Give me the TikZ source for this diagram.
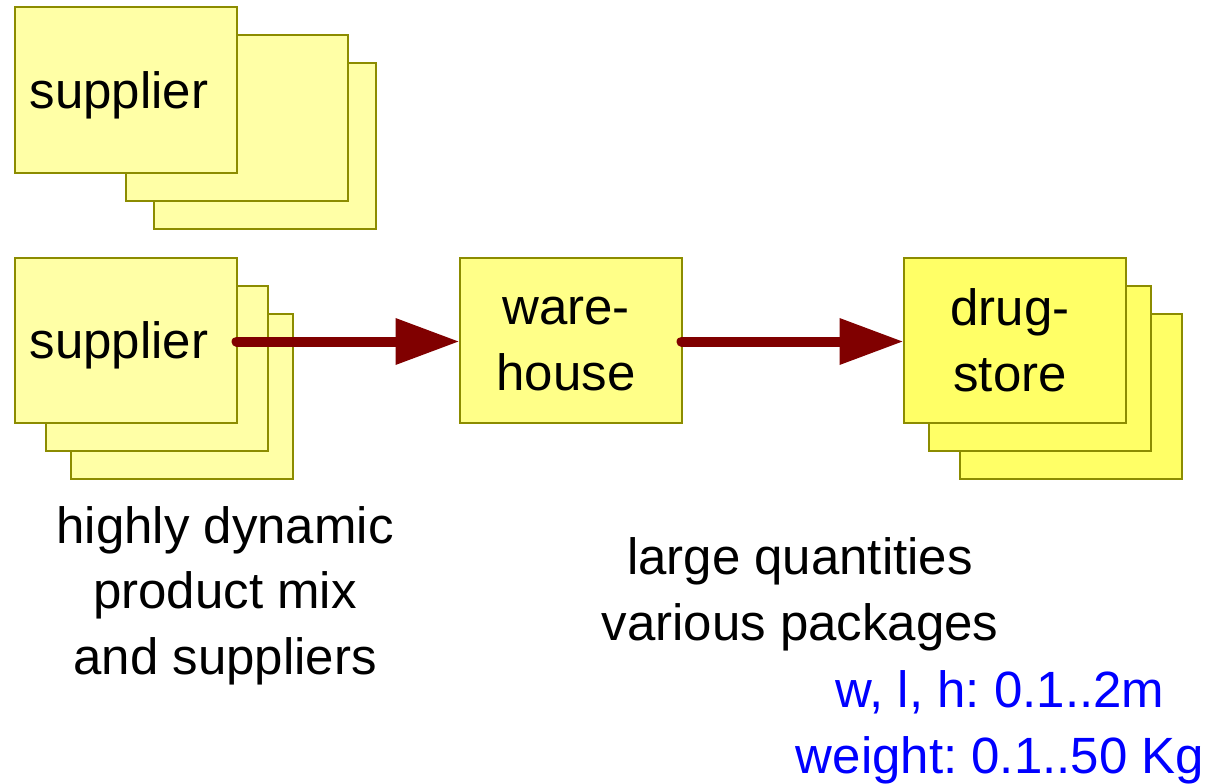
\documentclass[tikz,border=0pt]{standalone}
\usepackage{fontspec}
\setmainfont{Liberation Sans}
\usetikzlibrary{arrows.meta}
\definecolor{edge}{HTML}{8C8C00}
\definecolor{paleY}{HTML}{FFFFA6}
\definecolor{midY}{HTML}{FFFF88}
\definecolor{brightY}{HTML}{FFFF66}
\definecolor{flow}{HTML}{800000}
\definecolor{note}{HTML}{0000FF}
\begin{document}
\frenchspacing
\begin{tikzpicture}[x=1pt,y=-1pt,
  card/.style={draw=edge, line width=2pt, minimum width=222pt, minimum height=165pt,
    inner sep=0pt, outer sep=0pt, anchor=north west},
  lbl/.style={font=\fontsize{51}{65.5}\selectfont\frenchspacing, align=center, anchor=base, inner sep=0pt},
  flowarrow/.style={draw=flow, line width=10pt, line cap=round,
    -{Triangle[length=64pt,width=44pt]}}]
\useasboundingbox (0,0) rectangle (1207,784);
% top supplier stack
\node[card, fill=paleY] (sup1c) at (153.5,63.5) {};
\node[card, fill=paleY] (sup1b) at (125.5,35.5) {};
\node[card, fill=paleY] (sup1a) at (14.5,7.5) {};
\node[lbl] (sup1t) at (119,108) {supplier};
% second supplier stack
\node[card, fill=paleY] (sup2c) at (70.5,313.5) {};
\node[card, fill=paleY] (sup2b) at (45.5,285.5) {};
\node[card, fill=paleY] (sup2a) at (14.5,257.5) {};
\node[lbl] (sup2t) at (119,358) {supplier};
% warehouse
\node[card, fill=midY] (ware) at (459.5,257.5) {};
\node[lbl] (waret) at (566,390) {ware-\\house};
% drugstore stack
\node[card, fill=brightY] (drugc) at (959.5,313.5) {};
\node[card, fill=brightY] (drugb) at (928.5,285.5) {};
\node[card, fill=brightY] (drug) at (903.5,257.5) {};
\node[lbl] (drugt) at (1010,391) {drug-\\store};
% arrows
\coordinate (a1s) at ([yshift=-1.5pt]sup2a.east);
\coordinate (a1e) at ([yshift=-1.5pt]ware.west);
\draw[flowarrow] (a1s) -- (a1e);
\coordinate (a2s) at ([yshift=-1.5pt]ware.east);
\coordinate (a2e) at ([yshift=-1.5pt]drug.west);
\draw[flowarrow] (a2s) -- (a2e);
% notes
\node[lbl] (note1) at (225,674) {highly dynamic\\product mix\\and suppliers};
\node[lbl] (note2) at (800,640) {large quantities\\various packages};
\node[lbl, text=note] (note3) at (1000,773) {w, l, h: 0.1..2m\\weight: 0.1..50 Kg};
\end{tikzpicture}
\end{document}
